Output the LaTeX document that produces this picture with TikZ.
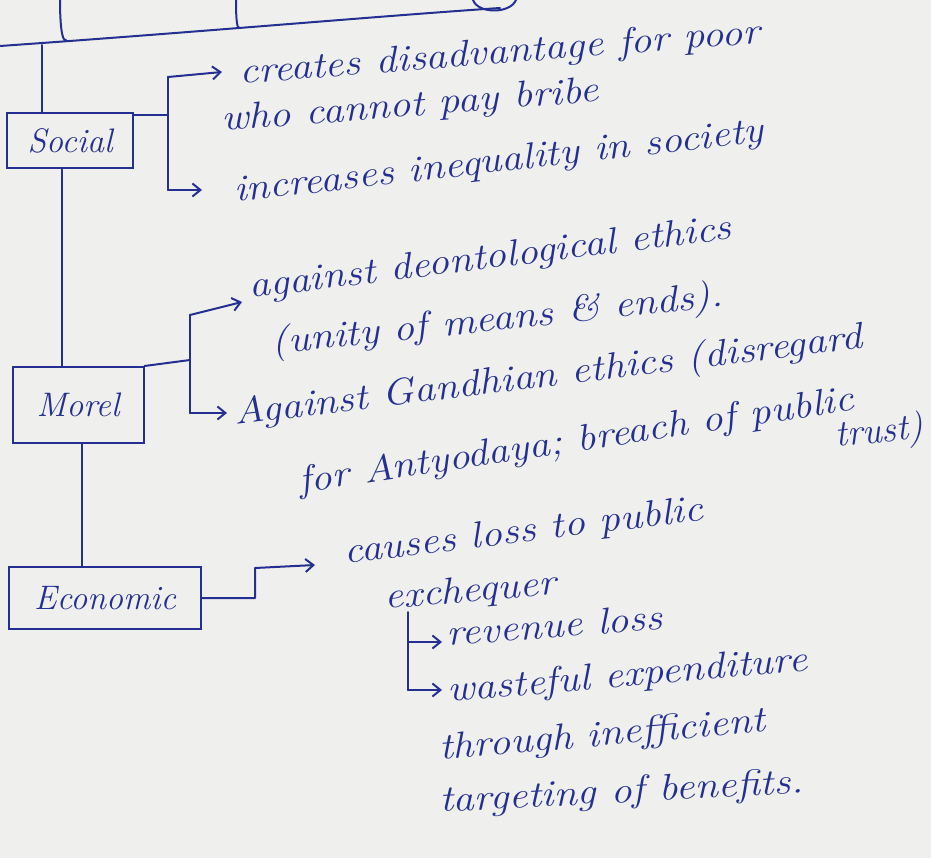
\documentclass[tikz,border=0pt]{standalone}
\usetikzlibrary{arrows.meta}
\definecolor{ink}{RGB}{36,48,145}
\definecolor{paper}{RGB}{239,239,237}
\begin{document}
\begin{tikzpicture}[x=1pt,y=-1pt,
  inkline/.style={ink, line width=2pt, line cap=round, line join=round},
  arr/.style={inkline, -{Straight Barb[length=8pt,width=13pt,line width=2pt]}},
  box/.style={draw=ink, line width=2pt, text=ink, font=\itshape\fontsize{34}{36}\selectfont, inner sep=0pt},
  note/.style={text=ink, font=\itshape\fontsize{37}{40}\selectfont, inner sep=0pt, anchor=base west, xscale=1.14, transform shape}]
\fill[paper] (0,0) rectangle (931,858);
\useasboundingbox (0,0) rectangle (931,858);
% cut-off top part
\draw[inkline] (0,46) .. controls (200,32) and (380,16) .. (500,8);
\draw[inkline] (473,0) .. controls (478,14) and (510,14) .. (516,0);
\draw[inkline] (60,0) .. controls (60,25) and (62,42) .. (66,40);
\draw[inkline] (236,0) .. controls (236,20) and (237,30) .. (240,28);
% boxes
\node[box, minimum width=126pt, minimum height=55pt] (social) at (70,141) {Social};
\node[box, minimum width=131pt, minimum height=76pt] (morel) at (78,405) {Morel};
\node[box, minimum width=192pt, minimum height=62pt] (econ) at (105,598) {Economic};
% trunk
\coordinate (j1) at (42,45);
\coordinate (v2) at (62,0);
\coordinate (v3) at (82,0);
\draw[inkline] (j1) -- (j1 |- social.north);
\draw[inkline] (social.south -| v2) -- (morel.north -| v2);
\draw[inkline] (morel.south -| v3) -- (econ.north -| v3);
% social bracket
\coordinate (sb) at (168,115);
\coordinate (sbt) at (168,77);
\coordinate (sbb) at (168,190);
\coordinate (sa1) at (222,72);
\coordinate (sa2) at (202,190);
\draw[inkline] (social.east |- sb) -- (sb);
\draw[inkline] (sbt) -- (sbb);
\draw[arr] (sbt) -- (sa1);
\draw[arr] (sbb) -- (sa2);
% moral bracket
\coordinate (mb) at (190,360);
\coordinate (mbt) at (190,315);
\coordinate (mbb) at (190,413);
\coordinate (ma1) at (242,302);
\coordinate (ma2) at (227,413);
\draw[inkline] (morel.north east) -- (mb);
\draw[inkline] (mbt) -- (mbb);
\draw[arr] (mbt) -- (ma1);
\draw[arr] (mbb) -- (ma2);
% economic connector
\coordinate (e1) at (255,598);
\coordinate (e2) at (255,568);
\coordinate (ea) at (315,565);
\draw[arr] (econ.east) -- (e1) -- (e2) -- (ea);
% sub bracket
\coordinate (bt) at (408,612);
\coordinate (bm) at (408,642);
\coordinate (bb) at (408,690);
\coordinate (ba1) at (442,642);
\coordinate (ba2) at (442,690);
\draw[inkline] (bt) -- (bb);
\draw[arr] (bm) -- (ba1);
\draw[arr] (bb) -- (ba2);
% texts
\node[rotate=4.5, note] (t1) at (240,84) {creates disadvantage for poor};
\node[rotate=4.5, note] (t2) at (222,131) {who cannot pay bribe};
\node[rotate=6.5, note] (t3) at (235,202) {increases inequality in society};
\node[rotate=7, note] (t4) at (250,298) {against deontological ethics};
\node[rotate=6, note] (t5) at (272,354) {(unity of means \& ends).};
\node[rotate=7, note] (t6) at (235,425) {Against Gandhian ethics (disregard};
\node[rotate=8.5, note] (t7) at (300,493) {for Antyodaya; breach of public};
\node[rotate=6, note, xscale=0.88] (t8) at (836,447) {trust)};
\node[rotate=7, note] (t9) at (345,564) {causes loss to public};
\node[rotate=5, note] (t10) at (385,609) {exchequer};
\node[rotate=4.5, note] (t11) at (447,646) {revenue loss};
\node[rotate=5, note] (t12) at (448,702) {wasteful expenditure};
\node[rotate=5, note] (t13) at (440,760) {through inefficient};
\node[rotate=3, note] (t14) at (440,812) {targeting of benefits.};
\end{tikzpicture}
\end{document}
